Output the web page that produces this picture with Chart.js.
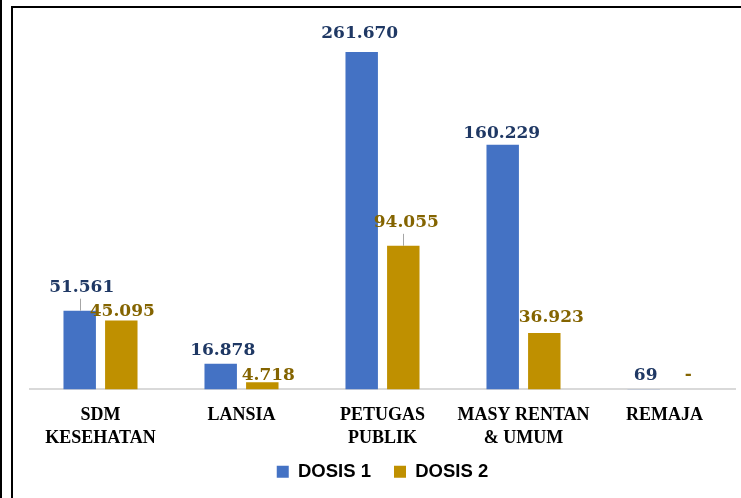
<!DOCTYPE html>
<html>
<head>
<meta charset="utf-8">
<script src="https://cdn.jsdelivr.net/npm/chart.js@4.4.1/dist/chart.umd.min.js"></script>
<style>
  html, body { margin: 0; padding: 0; background: #fff; }
  #wrap { position: relative; width: 741px; height: 498px; overflow: hidden; }
  #wrap canvas { position: absolute; left: 0; top: 0; }
  .line-left { position: absolute; left: 0; top: 0; width: 2px; height: 498px; background: #000; }
  .box { position: absolute; left: 11px; top: 6px; width: 760px; height: 520px;
         border-left: 2px solid #000; border-top: 2px solid #000; pointer-events: none; }
</style>
</head>
<body>
<div id="wrap">
  <canvas id="chart" width="741" height="498"></canvas>
  <div class="line-left"></div>
  <div class="box"></div>
</div>
<script>
const categories = [['SDM', 'KESEHATAN'], ['LANSIA'], ['PETUGAS', 'PUBLIK'], ['MASY RENTAN', '& UMUM'], ['REMAJA']];
const dosis1 = [51561, 16878, 261670, 160229, 69];
const dosis2 = [45095, 4718, 94055, 36923, 0];

// label nudges [dx, gap above bar top, leader line?]
const nudges1 = [[2, 23, true], [2, 13, false], [-2, 18, false], [-1, 11, false], [2, 14, false]];
const nudges2 = [[1, 9, false], [6, 7, false], [3, 23, true], [7, 15, false], [3, 15, false]];

function fmt(v) {
  if (v === 0) return '-';
  return String(v).replace(/\B(?=(\d{3})+(?!\d))/g, '.');
}

const valueLabels = {
  id: 'valueLabels',
  afterDatasetsDraw(chart, args, opts) {
    const ctx = chart.ctx;
    const top = chart.chartArea.top;
    ctx.save();
    chart.data.datasets.forEach((ds, i) => {
      const meta = chart.getDatasetMeta(i);
      meta.data.forEach((bar, j) => {
        const n = opts.nudges[i][j];
        const barTop = Math.max(bar.y, top);
        const x = bar.x + n[0];
        const y = barTop - n[1];
        if (n[2]) {
          ctx.strokeStyle = '#a6a6a6';
          ctx.lineWidth = 1;
          ctx.beginPath();
          ctx.moveTo(Math.round(bar.x) + 0.5, barTop);
          ctx.lineTo(Math.round(bar.x) + 0.5, barTop - 12);
          ctx.stroke();
        }
        ctx.font = 'bold 17px "DejaVu Serif"';
        ctx.fillStyle = opts.colors[i];
        ctx.textAlign = 'center';
        ctx.textBaseline = 'middle';
        ctx.fillText(fmt(ds.data[j]), x, y);
      });
    });
    ctx.restore();
  }
};

// pull the legend a bit closer to the axis labels
const legendShift = {
  id: 'legendShift',
  afterLayout(chart) {
    if (chart.legend) {
      chart.legend.top -= 16;
      chart.legend.bottom -= 16;
    }
  }
};

new Chart(document.getElementById('chart'), {
  type: 'bar',
  data: {
    labels: categories,
    datasets: [
      { label: 'DOSIS 1', data: dosis1, backgroundColor: '#4472C4',
        categoryPercentage: 0.59, barPercentage: 0.78 },
      { label: 'DOSIS 2', data: dosis2, backgroundColor: '#BF9000',
        categoryPercentage: 0.59, barPercentage: 0.78 }
    ]
  },
  options: {
    responsive: false,
    animation: false,
    layout: { padding: { left: 30, right: 6, top: 52, bottom: -9 } },
    plugins: {
      legend: {
        display: true,
        position: 'bottom',
        labels: {
          boxWidth: 12, boxHeight: 12, padding: 23, color: '#000',
          font: { family: '"Liberation Sans"', size: 18.5, weight: 'bold' }
        }
      },
      tooltip: { enabled: false },
      valueLabels: { nudges: [nudges1, nudges2], colors: ['#1F3864', '#846400'] }
    },
    scales: {
      y: { display: false, min: 0, max: 221000 },
      x: {
        grid: { display: false },
        border: { display: true, color: '#d9d9d9', width: 2 },
        ticks: {
          color: '#000', padding: 6, maxRotation: 0, autoSkip: false,
          font: { family: '"Liberation Serif"', size: 18, weight: 'bold', lineHeight: 1.28 }
        }
      }
    }
  },
  plugins: [valueLabels, legendShift]
});
</script>
</body>
</html>
